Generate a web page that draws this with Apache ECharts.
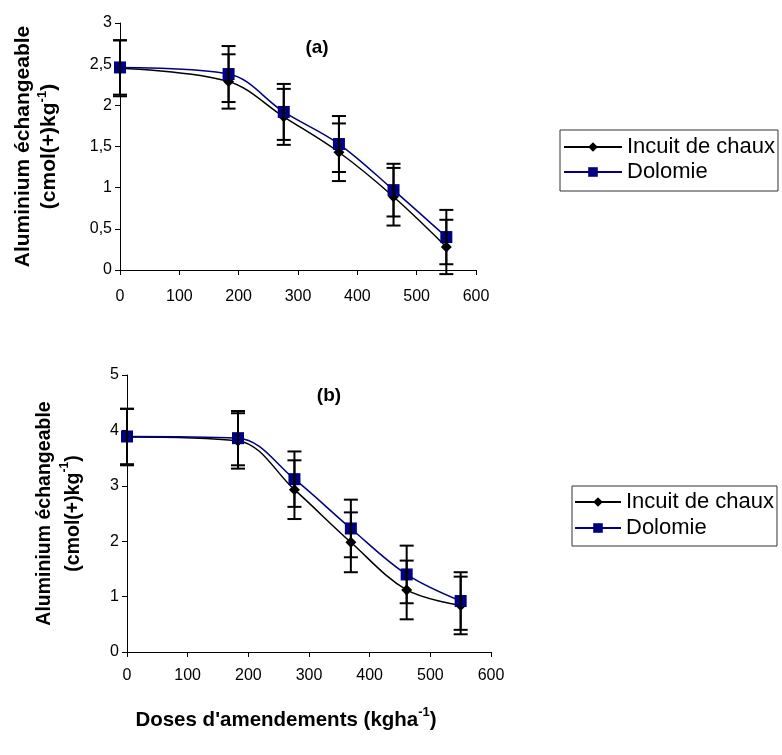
<!DOCTYPE html>
<html><head><meta charset="utf-8">
<script src="https://cdn.jsdelivr.net/npm/echarts@6/dist/echarts.min.js"></script>
<style>html,body{margin:0;padding:0;background:#fff;}#c{width:782px;height:755px;}</style>
</head><body><div id="c"></div>
<script>
const doses = [0, 183, 276, 369, 461, 550];
const xTicks = [0, 100, 200, 300, 400, 500, 600];
const seriesNames = ['Incuit de chaux', 'Dolomie'];
// (a)
const incuitA = [2.45, 2.29, 1.86, 1.43, 0.89, 0.28];
const dolomieA = [2.46, 2.38, 1.92, 1.53, 0.97, 0.40];
const errIncuitA = [0.34, 0.33, 0.34, 0.35, 0.35, 0.33];
const errDolomieA = [0.33, 0.34, 0.34, 0.34, 0.32, 0.33];
// (b)
const incuitB = [3.88, 3.81, 2.93, 1.98, 1.12, 0.84];
const dolomieB = [3.89, 3.86, 3.12, 2.23, 1.40, 0.92];
const errIncuitB = [0.51, 0.50, 0.53, 0.54, 0.53, 0.52];
const errDolomieB = [0.50, 0.49, 0.50, 0.52, 0.52, 0.52];

const FONT = 'Liberation Sans, Arial, sans-serif';
const pairs = (xs, ys) => xs.map((x, i) => [x, ys[i]]);
const triples = (xs, ys, es) => xs.map((x, i) => [x, ys[i], es[i]]);

function errRender(params, api) {
  const x = api.value(0), y = api.value(1), e = api.value(2);
  const t = api.coord([x, y + e]), b = api.coord([x, y - e]);
  const h = 7;
  const st = {stroke: '#000', lineWidth: 2};
  return {type: 'group', children: [
    {type: 'line', shape: {x1: t[0], y1: t[1], x2: b[0], y2: b[1]}, style: st},
    {type: 'line', shape: {x1: t[0] - h, y1: t[1], x2: t[0] + h, y2: t[1]}, style: st},
    {type: 'line', shape: {x1: b[0] - h, y1: b[1], x2: b[0] + h, y2: b[1]}, style: st}
  ]};
}

const axisLine = {lineStyle: {color: '#000', width: 1}};
const axisTick = {show: true, inside: false, length: 5, lineStyle: {color: '#000'}};
const labelStyle = {color: '#000', fontSize: 16, fontFamily: FONT};
const yName = '{b|Aluminium échangeable}\n{b|(cmol(+)kg}{s|-1}{b|)}';
function rich(fs, lh) {
  return {
    b: {fontSize: fs, fontWeight: 'bold', fontFamily: FONT, color: '#000', lineHeight: lh},
    s: {fontSize: Math.round(fs * 0.62), fontWeight: 'bold', fontFamily: FONT, color: '#000', verticalAlign: 'top', lineHeight: lh}
  };
}

function xAxis(gi, margin, withName) {
  const o = {type: 'value', gridIndex: gi, min: xTicks[0], max: xTicks[xTicks.length - 1], interval: 100,
    axisLine, axisTick, splitLine: {show: false},
    axisLabel: Object.assign({margin}, labelStyle)};
  if (withName) {
    o.name = '{b|Doses d\'amendements (kgha}{s|-1}{b|)}';
    o.nameLocation = 'middle'; o.nameGap = 54;
    o.nameTextStyle = {rich: rich(20.5, 28), padding: [0, 46, 0, 0]};
  }
  return o;
}
function yAxis(gi, max, interval, gap, fs, lh) {
  return {type: 'value', gridIndex: gi, min: 0, max, interval,
    axisLine: Object.assign({show: true}, axisLine), axisTick, splitLine: {show: false},
    axisLabel: Object.assign({margin: 8, formatter: v => String(v).replace('.', ',')}, labelStyle),
    name: yName, nameLocation: 'middle', nameGap: gap, nameRotate: 90,
    nameTextStyle: {rich: rich(fs, lh)}};
}

function lineSeries(name, gi, data, color, symbol, size) {
  return {type: 'line', name, xAxisIndex: gi, yAxisIndex: gi, data, smooth: 0.35,
    symbol, symbolSize: size, showSymbol: true,
    lineStyle: {color, width: 1.5}, itemStyle: {color}, z: 3};
}
function errSeries(gi, data) {
  return {type: 'custom', xAxisIndex: gi, yAxisIndex: gi, data, renderItem: errRender,
    clip: false, encode: {x: 0, y: 1}, z: 4, silent: true};
}

const legendText = {fontSize: 22, color: '#000', fontFamily: FONT};
const chart = echarts.init(document.getElementById('c'), null, {renderer: 'canvas'});
chart.setOption({
  animation: false,
  backgroundColor: '#fff',
  textStyle: {fontFamily: FONT},
  title: [
    {text: '(a)', left: 312, top: 33, textAlign: 'center', textStyle: {fontSize: 19, fontWeight: 'bold', color: '#000', fontFamily: FONT}},
    {text: '(b)', left: 324, top: 381, textAlign: 'center', textStyle: {fontSize: 19, fontWeight: 'bold', color: '#000', fontFamily: FONT}}
  ],
  legend: [
    {data: seriesNames, orient: 'vertical', left: 560, top: 130,
     borderColor: '#333', borderWidth: 1, padding: [6, 3, 8, 3], itemGap: 3,
     itemWidth: 58, itemHeight: 12, textStyle: legendText, selectedMode: false},
    {data: seriesNames, orient: 'vertical', left: 572, top: 486,
     borderColor: '#333', borderWidth: 1, padding: [5, 3, 7, 2], itemGap: 4,
     itemWidth: 46, itemHeight: 12, textStyle: legendText, selectedMode: false}
  ],
  grid: [
    {left: 120, top: 23, width: 356, height: 247, containLabel: false},
    {left: 127, top: 375, width: 364, height: 277, containLabel: false}
  ],
  xAxis: [xAxis(0, 19, false), xAxis(1, 16, true)],
  yAxis: [yAxis(0, 3, 0.5, 58, 21, 26), yAxis(1, 5, 1, 39, 19.5, 29)],
  series: [
    lineSeries(seriesNames[0], 0, pairs(doses, incuitA), '#000000', 'diamond', 11),
    lineSeries(seriesNames[1], 0, pairs(doses, dolomieA), '#000080', 'rect', 12),
    errSeries(0, triples(doses, incuitA, errIncuitA)),
    errSeries(0, triples(doses, dolomieA, errDolomieA)),
    lineSeries(seriesNames[0], 1, pairs(doses, incuitB), '#000000', 'diamond', 11),
    lineSeries(seriesNames[1], 1, pairs(doses, dolomieB), '#000080', 'rect', 12),
    errSeries(1, triples(doses, incuitB, errIncuitB)),
    errSeries(1, triples(doses, dolomieB, errDolomieB))
  ]
});
</script></body></html>
